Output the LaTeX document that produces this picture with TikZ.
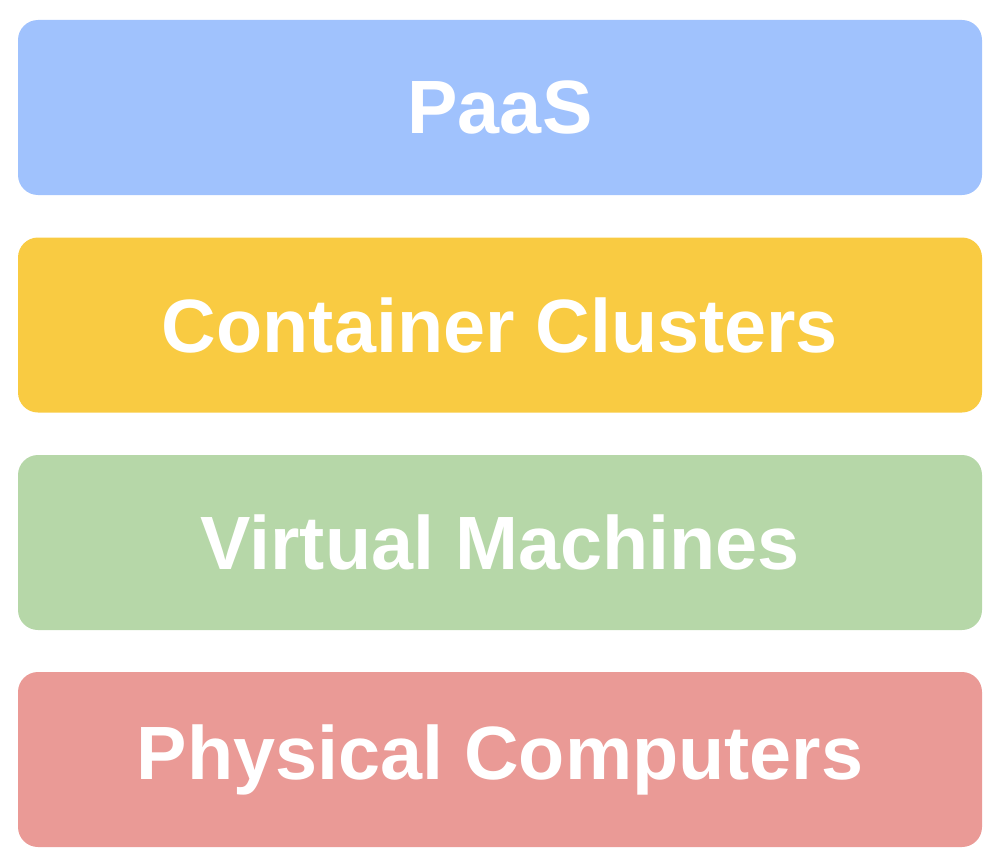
\documentclass[tikz,border=0pt]{standalone}
\usepackage{fontspec}
\setmainfont{Liberation Sans}
\definecolor{paascol}{HTML}{A0C2FD}
\definecolor{contcol}{HTML}{F9CB42}
\definecolor{vmcol}{HTML}{B6D7A8}
\definecolor{physcol}{HTML}{EA9A96}
\tikzset{
  layerbox/.style={rectangle, rounded corners=0.4cm, minimum width=19.28cm,
    minimum height=3.5cm, text=white, inner sep=0pt,
    font=\fontsize{43}{50}\selectfont\bfseries}
}

\begin{document}
\begin{tikzpicture}
        \useasboundingbox (0,0) rectangle (19.92,-17.32);
        \path
        (10,-2.15) node[layerbox,fill=paascol](paas) {PaaS}
        (10,-6.5) node[layerbox,fill=contcol](containers) {Container Clusters}
        (10,-10.85) node[layerbox,fill=vmcol](vms) {Virtual Machines}
        (10,-15.19) node[layerbox,fill=physcol](physical) {Physical Computers}
        ;
      \end{tikzpicture}
\end{document}
